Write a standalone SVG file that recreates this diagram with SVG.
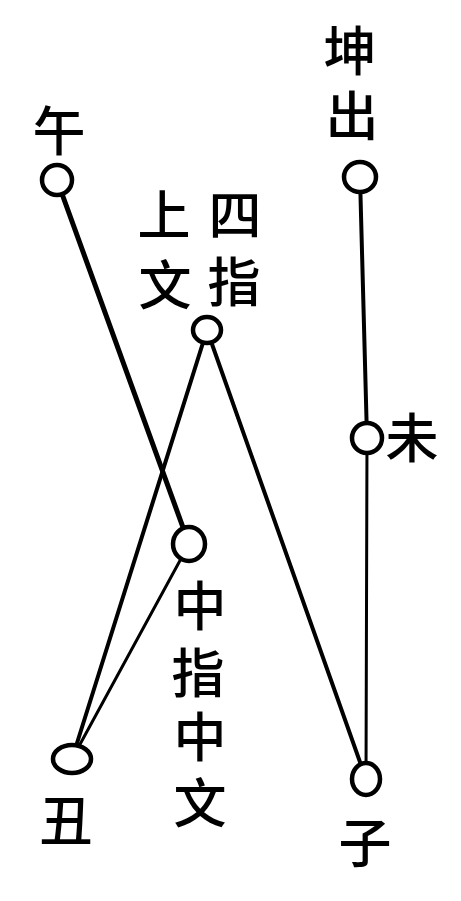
<svg xmlns="http://www.w3.org/2000/svg" width="461" height="901" viewBox="0 0 461 901">
<style>
.t{font-family:"Noto Sans CJK SC","Noto Sans CJK JP",sans-serif;font-size:53px;font-weight:500;fill:#000;text-anchor:middle;dominant-baseline:central}
.c{fill:#fff;stroke:#000;stroke-width:4.5}
.l{stroke:#000;fill:none;stroke-linecap:round}
</style>
<rect width="461" height="901" fill="#fff"/>
<g id="connectors">
<line class="l" x1="57" y1="180" x2="189" y2="544" stroke-width="5"/>
<line class="l" x1="207" y1="330" x2="72" y2="759" stroke-width="4"/>
<line class="l" x1="207" y1="330" x2="366" y2="779" stroke-width="4"/>
<line class="l" x1="189" y1="544" x2="72" y2="759" stroke-width="3"/>
<line class="l" x1="360" y1="177" x2="367" y2="438" stroke-width="4"/>
<line class="l" x1="367" y1="438" x2="366" y2="779" stroke-width="3"/>
</g>
<g id="wu">
<ellipse class="c" cx="57" cy="180" rx="15" ry="15"/>
<text class="t" x="59" y="128">午</text>
</g>
<g id="kunchu">
<ellipse class="c" cx="360" cy="177" rx="16" ry="15"/>
<text class="t" x="350" y="48">坤</text>
<text class="t" x="352" y="113">出</text>
</g>
<g id="sizhi">
<ellipse class="c" cx="207" cy="330" rx="14" ry="13"/>
<text class="t" x="164" y="212">上</text>
<text class="t" x="165" y="282">文</text>
<text class="t" x="235" y="212">四</text>
<text class="t" x="234" y="279">指</text>
</g>
<g id="wei">
<ellipse class="c" cx="367" cy="438" rx="15" ry="15"/>
<text class="t" x="412" y="435">未</text>
</g>
<g id="zhongzhi">
<ellipse class="c" cx="189" cy="544" rx="16" ry="17"/>
<text class="t" x="200" y="603">中</text>
<text class="t" x="198" y="670">指</text>
<text class="t" x="200" y="734">中</text>
<text class="t" x="200" y="800">文</text>
</g>
<g id="chou">
<ellipse class="c" cx="72" cy="759" rx="19" ry="14"/>
<text class="t" x="66" y="818">丑</text>
</g>
<g id="zi">
<ellipse class="c" cx="366" cy="779" rx="14" ry="16"/>
<text class="t" x="365" y="840">子</text>
</g>
</svg>
